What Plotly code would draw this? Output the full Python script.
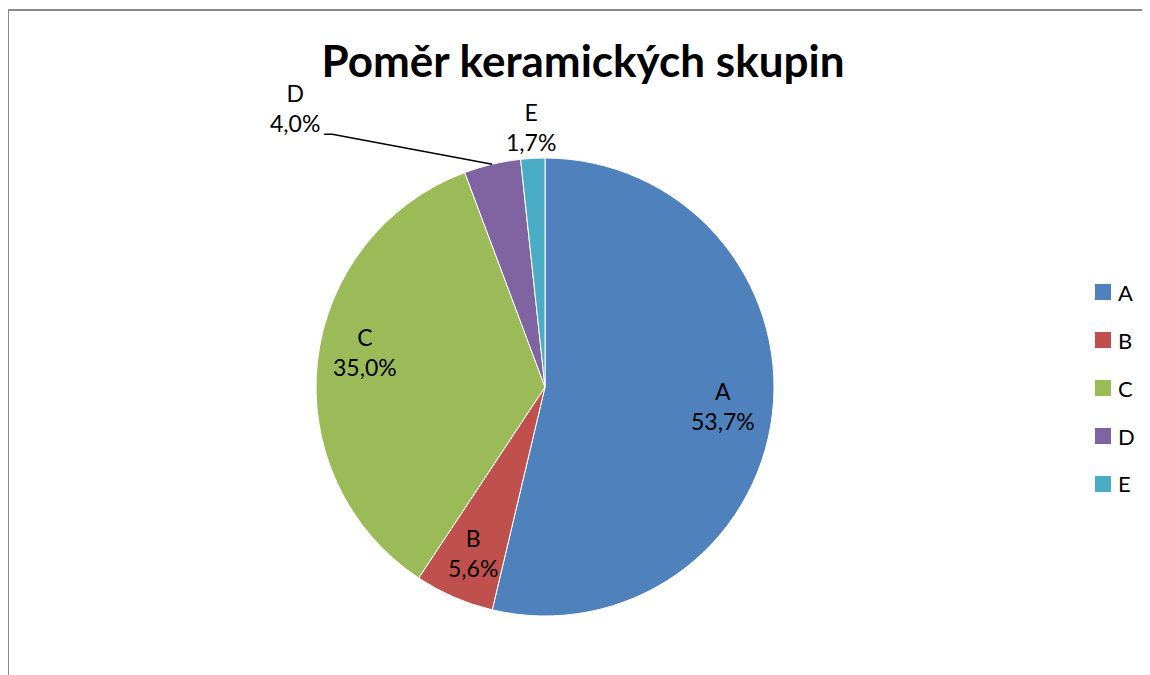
import math
import plotly.graph_objects as go

# data
labels = ['A', 'B', 'C', 'D', 'E']
shares = [53.7, 5.6, 35.0, 4.0, 1.7]
colors = ['#4F81BD', '#C0504D', '#9BBB59', '#8064A2', '#4BACC6']
title_text = 'Poměr keramických skupin'

W, H = 1150, 675
FONT = 'Lato'
OFF = 8  # the page puts the figure 8px in from the corner

# pie geometry (pixels, in screenshot coordinates)
cx, cy, r = 545, 387, 229
# small hand nudges of the data labels, like Excel's own placement
nudge = {'A': (-2, -2), 'C': (0, -15)}


def px(x):
    return (x - OFF) / W


def py(y):
    return 1 - (y - OFF) / H


def fmt(v):
    return ('%.1f' % v).replace('.', ',') + '%'


fig = go.Figure()
fig.add_trace(go.Pie(
    labels=labels, values=shares, sort=False, direction='clockwise', rotation=0,
    marker=dict(colors=colors, line=dict(color='white', width=1)),
    textinfo='none', hoverinfo='label+percent', showlegend=False,
    domain=dict(x=[px(cx - r), px(cx + r)], y=[py(cy + r), py(cy - r)]),
))

annotations = []
shapes = []
total = sum(shares)
start = 0.0
for i, (lab, v) in enumerate(zip(labels, shares)):
    a0 = start / total * 2 * math.pi
    a1 = (start + v) / total * 2 * math.pi
    mid = (a0 + a1) / 2
    start += v
    txt = lab + '<br>' + fmt(v)
    if lab == 'D':
        # label pulled away with a leader line
        tx, ty = cx + r * math.sin(mid), cy - r * math.cos(mid)
        ex, ey = tx - 160, ty - 30
        sx = ex - 8
        shapes.append(dict(type='path', xref='paper', yref='paper',
                           path='M %f,%f L %f,%f L %f,%f' % (px(tx), py(ty), px(ex), py(ey), px(sx), py(ey)),
                           line=dict(color='black', width=1.5)))
        annotations.append(dict(text=txt, x=px(sx - 2), y=py(ey - 26), xref='paper', yref='paper',
                                xanchor='right', yanchor='middle', showarrow=False, align='center',
                                font=dict(family=FONT, size=23, color='black')))
        continue
    f = 1.135 if lab == 'E' else 0.79
    dx, dy = nudge.get(lab, (0, 0))
    lx, ly = cx + f * r * math.sin(mid) + dx, cy - f * r * math.cos(mid) + dy
    annotations.append(dict(text=txt, x=px(lx), y=py(ly), xref='paper', yref='paper',
                            xanchor='center', yanchor='middle', showarrow=False, align='center',
                            font=dict(family=FONT, size=23, color='black')))

# legend drawn by hand to get the wide spacing
for i, (lab, c) in enumerate(zip(labels, colors)):
    yy = 292 + i * 48
    shapes.append(dict(type='rect', xref='paper', yref='paper',
                       x0=px(1095), x1=px(1111), y0=py(yy - 8), y1=py(yy + 8),
                       fillcolor=c, line=dict(width=0)))
    annotations.append(dict(text=lab, x=px(1116), y=py(yy), xref='paper', yref='paper',
                            xanchor='left', yanchor='middle', showarrow=False,
                            font=dict(family=FONT, size=22, color='black')))

# chart area frame (top and left edges visible)
shapes.append(dict(type='line', xref='paper', yref='paper', x0=px(8), x1=1.0, y0=py(10), y1=py(10),
                   line=dict(color='#8a8a8a', width=2)))
shapes.append(dict(type='line', xref='paper', yref='paper', x0=px(8), x1=px(8), y0=py(10), y1=0,
                   line=dict(color='#8a8a8a', width=2)))

fig.update_layout(
    width=W, height=H, autosize=False,
    title=dict(text='<b>' + title_text + '</b>', x=px(583), y=py(62), xanchor='center', yanchor='middle',
               font=dict(family=FONT, size=44, color='black')),
    margin=dict(l=0, r=0, t=0, b=0),
    paper_bgcolor='white', plot_bgcolor='white',
    annotations=annotations, shapes=shapes,
)
fig.write_html('out.html')
